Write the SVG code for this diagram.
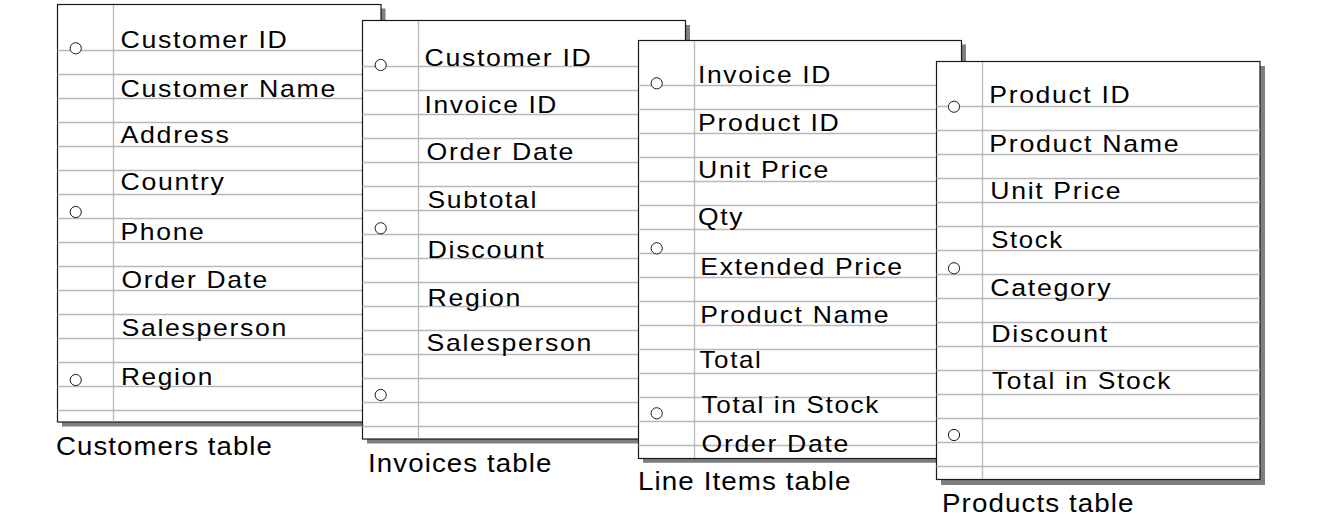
<svg xmlns="http://www.w3.org/2000/svg" width="1343" height="528" viewBox="0 0 1343 528">
<style>
.bg{fill:#ffffff}
.shadow{fill:#7f7f7f}
.sheet{fill:#ffffff;stroke:#1a1a1a;stroke-width:1.2}
.rule{fill:none;stroke:#b9b9b9;stroke-width:1.3}
.hole{fill:#ffffff;stroke:#1a1a1a;stroke-width:1}
.field{font-family:"Liberation Sans",Arial,sans-serif;font-size:24px;letter-spacing:1.5px;fill:#000000}
.caption{font-family:"Liberation Sans",Arial,sans-serif;font-size:25.5px;letter-spacing:1px;fill:#000000}
</style>
<rect class="bg" x="0" y="0" width="1343" height="528"/>

<g id="customers">
<rect class="shadow" x="62" y="8.5" width="323.5" height="418"/>
<rect class="sheet" x="57.5" y="4.5" width="323.5" height="417.5"/>
<path class="rule" d="M57.5 50.5H381M57.5 74.5H381M57.5 98.5H381M57.5 122.5H381M57.5 146.5H381M57.5 170.5H381M57.5 194.5H381M57.5 218.5H381M57.5 242.5H381M57.5 266.5H381M57.5 290.5H381M57.5 314.5H381M57.5 338.5H381M57.5 362.5H381M57.5 386.5H381M57.5 410.5H381M113.5 5V421.5"/>
<circle class="hole" cx="75.7" cy="48.3" r="5.6"/>
<circle class="hole" cx="75.7" cy="212" r="5.6"/>
<circle class="hole" cx="75.7" cy="380" r="5.6"/>
<text class="field" x="120.5" y="48" textLength="168" lengthAdjust="spacingAndGlyphs">Customer ID</text>
<text class="field" x="120.5" y="96.5" textLength="216.5" lengthAdjust="spacingAndGlyphs">Customer Name</text>
<text class="field" x="120.5" y="142.5" textLength="110" lengthAdjust="spacingAndGlyphs">Address</text>
<text class="field" x="120.5" y="190" textLength="105" lengthAdjust="spacingAndGlyphs">Country</text>
<text class="field" x="120.5" y="239.5" textLength="85" lengthAdjust="spacingAndGlyphs">Phone</text>
<text class="field" x="121.5" y="287.5" textLength="147.5" lengthAdjust="spacingAndGlyphs">Order Date</text>
<text class="field" x="121.5" y="336" textLength="166.5" lengthAdjust="spacingAndGlyphs">Salesperson</text>
<text class="field" x="121" y="384.5" textLength="93" lengthAdjust="spacingAndGlyphs">Region</text>
<text class="caption" x="56" y="455" textLength="217" lengthAdjust="spacingAndGlyphs">Customers table</text>
</g>

<g id="invoices">
<rect class="shadow" x="367" y="25" width="323" height="418.5"/>
<rect class="sheet" x="362.5" y="20.5" width="323" height="418.5"/>
<path class="rule" d="M362.5 66.5H685.5M362.5 90.5H685.5M362.5 114.5H685.5M362.5 138.5H685.5M362.5 162.5H685.5M362.5 186.5H685.5M362.5 210.5H685.5M362.5 234.5H685.5M362.5 258.5H685.5M362.5 282.5H685.5M362.5 306.5H685.5M362.5 330.5H685.5M362.5 354.5H685.5M362.5 378.5H685.5M362.5 402.5H685.5M362.5 426.5H685.5M418.5 21V438.5"/>
<circle class="hole" cx="380.7" cy="65" r="5.6"/>
<circle class="hole" cx="380.7" cy="228.3" r="5.6"/>
<circle class="hole" cx="380.7" cy="395" r="5.6"/>
<text class="field" x="424.5" y="65.5" textLength="168" lengthAdjust="spacingAndGlyphs">Customer ID</text>
<text class="field" x="424.5" y="113.3" textLength="133.5" lengthAdjust="spacingAndGlyphs">Invoice ID</text>
<text class="field" x="426.5" y="159.5" textLength="148.5" lengthAdjust="spacingAndGlyphs">Order Date</text>
<text class="field" x="427.5" y="208.3" textLength="110.5" lengthAdjust="spacingAndGlyphs">Subtotal</text>
<text class="field" x="427.5" y="258" textLength="118" lengthAdjust="spacingAndGlyphs">Discount</text>
<text class="field" x="427.5" y="306" textLength="94.5" lengthAdjust="spacingAndGlyphs">Region</text>
<text class="field" x="426.5" y="350.7" textLength="166.5" lengthAdjust="spacingAndGlyphs">Salesperson</text>
<text class="caption" x="368" y="471.7" textLength="184.5" lengthAdjust="spacingAndGlyphs">Invoices table</text>
</g>

<g id="line-items">
<rect class="shadow" x="643" y="44.5" width="323" height="418.3"/>
<rect class="sheet" x="638.5" y="40.5" width="323" height="418"/>
<path class="rule" d="M638.5 85.5H961.5M638.5 109.5H961.5M638.5 133.5H961.5M638.5 157.5H961.5M638.5 181.5H961.5M638.5 205.5H961.5M638.5 229.5H961.5M638.5 253.5H961.5M638.5 277.5H961.5M638.5 301.5H961.5M638.5 325.5H961.5M638.5 349.5H961.5M638.5 373.5H961.5M638.5 397.5H961.5M638.5 421.5H961.5M638.5 445.5H961.5M694.5 41V458"/>
<circle class="hole" cx="656.7" cy="83.3" r="5.6"/>
<circle class="hole" cx="656.7" cy="248.3" r="5.6"/>
<circle class="hole" cx="656.7" cy="413.3" r="5.6"/>
<text class="field" x="698" y="82.7" textLength="134" lengthAdjust="spacingAndGlyphs">Invoice ID</text>
<text class="field" x="698" y="130.7" textLength="142.5" lengthAdjust="spacingAndGlyphs">Product ID</text>
<text class="field" x="698" y="178.3" textLength="132" lengthAdjust="spacingAndGlyphs">Unit Price</text>
<text class="field" x="698" y="225" textLength="46" lengthAdjust="spacingAndGlyphs">Qty</text>
<text class="field" x="700.3" y="275" textLength="203.5" lengthAdjust="spacingAndGlyphs">Extended Price</text>
<text class="field" x="700.3" y="322.7" textLength="190" lengthAdjust="spacingAndGlyphs">Product Name</text>
<text class="field" x="699.5" y="368.3" textLength="63" lengthAdjust="spacingAndGlyphs">Total</text>
<text class="field" x="701.5" y="412.7" textLength="178.5" lengthAdjust="spacingAndGlyphs">Total in Stock</text>
<text class="field" x="701.5" y="452.3" textLength="148.5" lengthAdjust="spacingAndGlyphs">Order Date</text>
<text class="caption" x="638" y="490" textLength="213.5" lengthAdjust="spacingAndGlyphs">Line Items table</text>
</g>

<g id="products">
<rect class="shadow" x="941" y="66" width="324" height="419"/>
<rect class="sheet" x="936.5" y="61.5" width="323.5" height="418"/>
<path class="rule" d="M936.5 106.5H1260M936.5 130.5H1260M936.5 154.5H1260M936.5 178.5H1260M936.5 202.5H1260M936.5 226.5H1260M936.5 250.5H1260M936.5 274.5H1260M936.5 298.5H1260M936.5 322.5H1260M936.5 346.5H1260M936.5 370.5H1260M936.5 394.5H1260M936.5 418.5H1260M936.5 442.5H1260M936.5 466.5H1260M982.5 62V479"/>
<circle class="hole" cx="954" cy="106.7" r="5.6"/>
<circle class="hole" cx="954" cy="268.3" r="5.6"/>
<circle class="hole" cx="954" cy="435" r="5.6"/>
<text class="field" x="989.3" y="103.3" textLength="142" lengthAdjust="spacingAndGlyphs">Product ID</text>
<text class="field" x="989.3" y="151.7" textLength="191" lengthAdjust="spacingAndGlyphs">Product Name</text>
<text class="field" x="990.3" y="199.3" textLength="132" lengthAdjust="spacingAndGlyphs">Unit Price</text>
<text class="field" x="991.3" y="247.7" textLength="72.5" lengthAdjust="spacingAndGlyphs">Stock</text>
<text class="field" x="990.3" y="296" textLength="122" lengthAdjust="spacingAndGlyphs">Category</text>
<text class="field" x="991.3" y="341.7" textLength="117.5" lengthAdjust="spacingAndGlyphs">Discount</text>
<text class="field" x="992" y="389.3" textLength="180" lengthAdjust="spacingAndGlyphs">Total in Stock</text>
<text class="caption" x="942" y="511.7" textLength="192.5" lengthAdjust="spacingAndGlyphs">Products table</text>
</g>
</svg>
